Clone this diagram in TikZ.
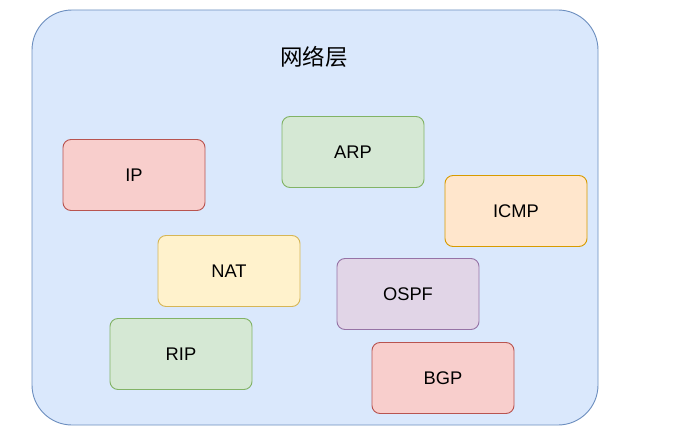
\documentclass[tikz,border=0pt]{standalone}
\usepackage{fontspec}
\setmainfont{Liberation Sans}
\newfontfamily\cjk{Noto Sans CJK SC}
\definecolor{bluefill}{HTML}{DAE8FC}\definecolor{bluedraw}{HTML}{6C8EBF}
\definecolor{redfill}{HTML}{F8CECC}\definecolor{reddraw}{HTML}{B85450}
\definecolor{greenfill}{HTML}{D5E8D4}\definecolor{greendraw}{HTML}{82B366}
\definecolor{orangefill}{HTML}{FFE6CC}\definecolor{orangedraw}{HTML}{D79B00}
\definecolor{yellowfill}{HTML}{FFF2CC}\definecolor{yellowdraw}{HTML}{D6B656}
\definecolor{purplefill}{HTML}{E1D5E7}\definecolor{purpledraw}{HTML}{9673A6}
\begin{document}
\begin{tikzpicture}[x=1pt,y=-1pt,
  proto/.style={rounded corners=8pt, minimum width=142pt, minimum height=71pt, line width=0.9pt, font=\fontsize{18.3}{21}\selectfont, inner sep=0pt},
  redbox/.style={proto, fill=redfill, draw=reddraw},
  greenbox/.style={proto, fill=greenfill, draw=greendraw},
  orangebox/.style={proto, fill=orangefill, draw=orangedraw},
  yellowbox/.style={proto, fill=yellowfill, draw=yellowdraw},
  purplebox/.style={proto, fill=purplefill, draw=purpledraw}]
\useasboundingbox (0,0) rectangle (689,436);
\fill[white] (0,0) rectangle (689,436);
\node[rounded corners=40pt, fill=bluefill, draw=bluedraw, line width=0.9pt, minimum width=566pt, minimum height=415pt, inner sep=0pt] (layer) at (315,217.5) {};
\node[font=\cjk\fontsize{22.5}{26}\selectfont] (title) at (314,57) {网络层};
\node[redbox] (ip) at (134,175) {IP};
\node[greenbox] (arp) at (353,152) {ARP};
\node[orangebox] (icmp) at (516,211) {ICMP};
\node[yellowbox] (nat) at (229,271) {NAT};
\node[purplebox] (ospf) at (408,294) {OSPF};
\node[greenbox] (rip) at (181,354) {RIP};
\node[redbox] (bgp) at (443,378) {BGP};
\end{tikzpicture}
\end{document}
